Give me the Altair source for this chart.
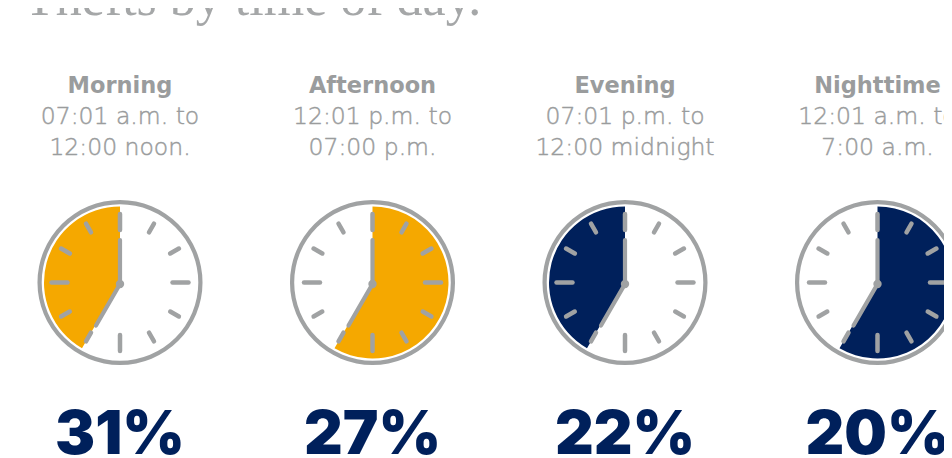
import math
import altair as alt
import pandas as pd

# ---- data ----
periods = ["Morning", "Afternoon", "Evening", "Nighttime"]
range_from = ["07:01 a.m. to", "12:01 p.m. to", "07:01 p.m. to", "12:01 a.m. to"]
range_to = ["12:00 noon.", "07:00 p.m.", "12:00 midnight", "7:00 a.m."]
shares = [31, 27, 22, 20]
dial_start = [7, 0, 7, 0]     # position on 12-hour dial where the shaded span starts
dial_end = [12, 7, 12, 7]     # position where it ends
fills = ["#F5A800", "#F5A800", "#00205B", "#00205B"]
hours = list(range(1, 13))
title_text = "Thefts by time of day."

# ---- layout ----
W, H = 936, 450
STEP, X0, CY = 252.5, 112, 274.5
GRAY = "#A0A2A3"
TXT_GRAY = "#9A9C9D"
NAVY = "#00205B"

clocks = pd.DataFrame({
    "period": periods, "from": range_from, "to": range_to,
    "share": shares, "start": dial_start, "end": dial_end, "fill": fills,
    "idx": list(range(len(periods))),
})
clocks["cx"] = X0 + clocks["idx"] * STEP
clocks["cy"] = CY
clocks["pct"] = clocks["share"].astype(str) + "%"

xs = alt.Scale(domain=[0, W], range=[0, W], nice=False, zero=False)
ys = alt.Scale(domain=[0, H], range=[0, H], nice=False, zero=False)
ts = alt.Scale(domain=[0, 12], range=[0, 2 * math.pi])

X = lambda f: alt.X(f, type="quantitative", scale=xs, axis=None)
Y = lambda f: alt.Y(f, type="quantitative", scale=ys, axis=None)

base = alt.Chart(clocks)

sector = base.mark_arc(radius=76, radius2=0).encode(
    x=X("cx"), y=Y("cy"),
    theta=alt.Theta("start:Q", scale=ts), theta2=alt.Theta2("end:Q"),
    color=alt.Color("fill:N", scale=None),
)

ring = base.transform_calculate(t0="0", t1="12").mark_arc(
    radius=82.5, radius2=78.3, color=GRAY
).encode(
    x=X("cx"), y=Y("cy"),
    theta=alt.Theta("t0:Q", scale=ts), theta2=alt.Theta2("t1:Q"),
)

# hour ticks
ticks_df = pd.DataFrame([(i, h) for i in range(len(periods)) for h in hours],
                        columns=["idx", "hour"])
ticks = alt.Chart(ticks_df).transform_calculate(
    cx=f"{X0} + datum.idx * {STEP}",
    a="datum.hour * PI / 6",
    r1="datum.hour % 3 == 0 ? 52.5 : 58",
    r2="datum.hour % 3 == 0 ? 68.5 : 68",
    x1="datum.cx + datum.r1 * sin(datum.a)",
    y1=f"{CY} - datum.r1 * cos(datum.a)",
    x2="datum.cx + datum.r2 * sin(datum.a)",
    y2=f"{CY} - datum.r2 * cos(datum.a)",
).mark_rule(color=GRAY, strokeWidth=4.5, strokeCap="round").encode(
    x=X("x1"), y=Y("y1"), x2="x2:Q", y2="y2:Q"
)

# hands: minute hand at 12, hour hand at 7
hand_pos = [12, 7]
hand_len = [44, 48]
hands_df = pd.DataFrame([(i, p, l) for i in range(len(periods))
                         for p, l in zip(hand_pos, hand_len)],
                        columns=["idx", "pos", "len"])
hands = alt.Chart(hands_df).transform_calculate(
    cx=f"{X0} + datum.idx * {STEP}",
    a="datum.pos * PI / 6",
    x2="datum.cx + datum.len * sin(datum.a)",
    y2=f"{CY} + 1.5 - datum.len * cos(datum.a)",
    cy=f"{CY} + 1.5",
).mark_rule(color=GRAY, strokeWidth=4.2, strokeCap="round").encode(
    x=X("cx"), y=Y("cy"), x2="x2:Q", y2="y2:Q"
)

hub = base.transform_calculate(cyy=f"datum.cy + 1.5").mark_point(
    shape="circle", filled=True, size=70, color=GRAY, opacity=1
).encode(x=X("cx"), y=Y("cyy"))

name = base.transform_calculate(ty="84.5").mark_text(
    font="DejaVu Sans", fontSize=22.5, fontWeight="bold", color=TXT_GRAY,
    baseline="alphabetic", align="center"
).encode(x=X("cx"), y=Y("ty"), text="period:N")

line_style = dict(font="DejaVu Sans", fontSize=23.5, fontWeight=200, color=TXT_GRAY,
                  stroke=TXT_GRAY, strokeWidth=0.45,
                  baseline="alphabetic", align="center")

line1 = base.transform_calculate(ty="115.5").mark_text(**line_style).encode(
    x=X("cx"), y=Y("ty"), text="from:N")

line2 = base.transform_calculate(ty="147").mark_text(**line_style).encode(
    x=X("cx"), y=Y("ty"), text="to:N")

pct = base.transform_calculate(ty="446").mark_text(
    font="Inter", fontSize=60, fontWeight=900, color=NAVY,
    baseline="alphabetic", align="center"
).encode(x=X("cx"), y=Y("ty"), text="pct:N")

title = alt.Chart(pd.DataFrame({"t": [title_text], "tx": [16], "ty": [7]})).mark_text(
    font="Liberation Serif", fontSize=52, color="#A5A7A8",
    baseline="alphabetic", align="left"
).encode(x=X("tx"), y=Y("ty"), text="t:N")

chart = alt.layer(sector, ring, ticks, hands, hub, name, line1, line2, pct, title).properties(
    width=W, height=H, padding=0,
    autosize=alt.AutoSizeParams(type="none"),
).configure_view(stroke=None)

chart.save("out.html", embed_options={"renderer": "svg", "actions": False})
